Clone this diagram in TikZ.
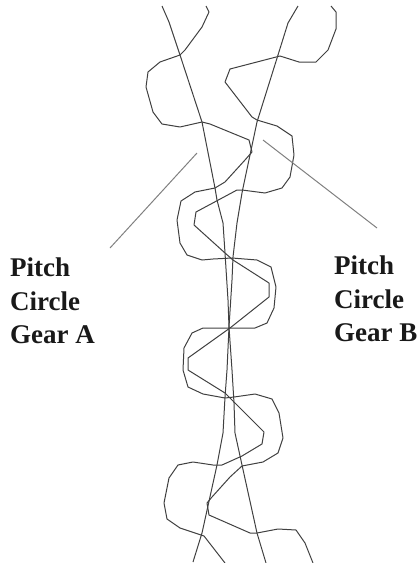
\documentclass[tikz,border=0pt]{standalone}
\usepackage{fontspec}
\setmainfont{Liberation Serif}
\tikzset{
	gearline/.style={black!75, line width=1pt, line join=round},
	leaderline/.style={black!50, line width=1pt},
	gearlabel/.style={font=\bfseries\fontsize{27}{33.5}\selectfont, align=left, anchor=north west, inner sep=0pt, text=black!90}
}
\begin{document}
\begin{tikzpicture}[x=1pt,y=-1pt]
	  \useasboundingbox (0,0) rectangle (419,563);
	  % pitch circles
	  \draw [gearline] plot coordinates {(162,6) (169,22) (180,55) (202,122) (215,188) (217,200) (223,223) (225,253) (228,300) (229,327) (232,370) (234,403) (235,433) (242,465) (257,533) (266,563)};
	  \draw [gearline] plot coordinates {(298,6) (288,23) (278,55) (257,122) (243,188) (242,193) (237,223) (233,257) (232,280) (229,327) (227,370) (225,397) (223,433) (217,465) (202,533) (193,562)};
	  % gear teeth
	  \draw [gearline] plot coordinates {(206,6) (209,12) (202,27) (185,50) (180,55) (160,62) (148,72) (146,87) (153,112) (162,124) (180,127) (202,122) (210,124) (249,140) (252,152) (245,160) (225,182) (215,188) (195,192) (181,201) (177,220) (180,243) (187,255) (202,260) (213,259) (232,258) (257,260) (271,267) (276,287) (274,308) (267,323) (255,328) (230,328) (203,328) (192,333) (184,348) (183,370) (188,387) (203,394) (225,398) (234,397) (255,394) (272,399) (279,413) (283,438) (278,453) (263,462) (242,466) (230,477) (212,497) (207,503) (209,515) (250,533) (257,533) (278,529) (296,530) (305,543) (313,563)};
	  \draw [gearline] plot coordinates {(331,6) (336,12) (336,29) (328,50) (316,62) (299,62) (280,56) (230,69) (225,82) (252,117) (257,120) (277,126) (292,136) (294,155) (290,177) (282,188) (265,193) (242,190) (237,190) (196,212) (194,225) (225,253) (233,260) (269,283) (269,297) (230,328) (188,358) (188,370) (225,393) (234,402) (264,432) (262,444) (242,456) (222,465) (213,465) (193,462) (178,465) (169,478) (164,503) (167,519) (180,528) (204,536) (225,563)};
	  % leaders and labels
	  \coordinate (pitchA) at (197,153);
	  \coordinate (pitchB) at (263,140);
	  \node [gearlabel] (labelA) at (10,258) {Pitch\\Circle\\Gear A};
	  \node [gearlabel] (labelB) at (334,256) {Pitch\\Circle\\Gear B};
	  \coordinate (endA) at (110,248);
	  \coordinate (endB) at (377,228);
	  \draw [leaderline] (pitchA) -- (endA);
	  \draw [leaderline] (pitchB) -- (endB);
	\end{tikzpicture}
\end{document}
